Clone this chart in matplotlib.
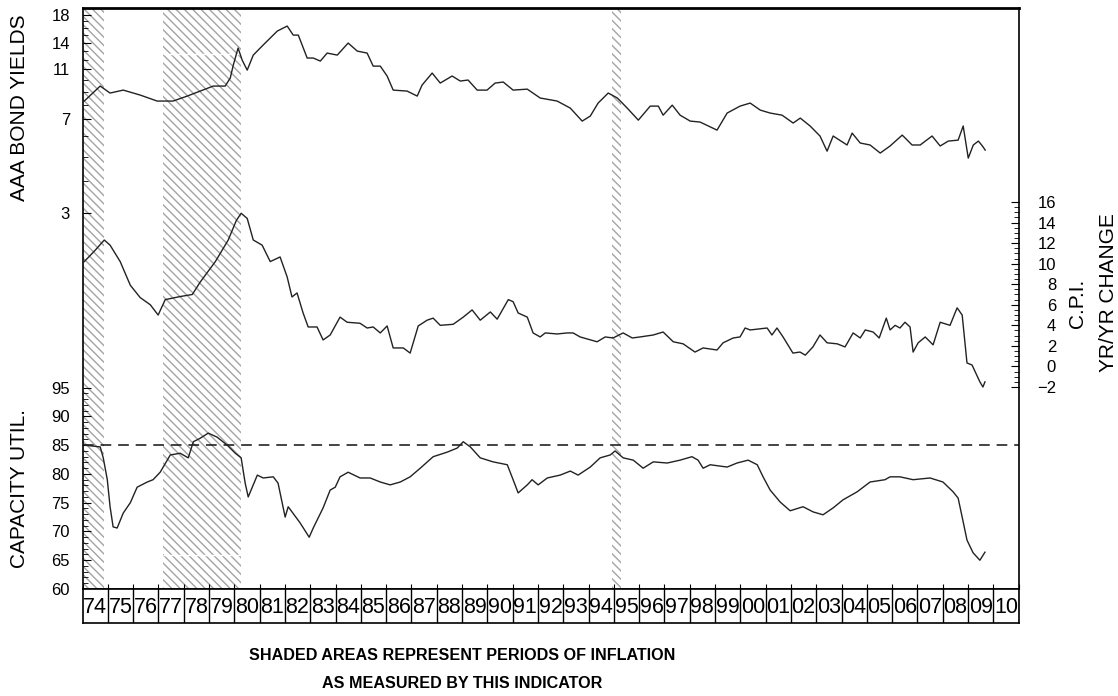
import matplotlib
matplotlib.use("Agg")
import matplotlib.pyplot as plt
import numpy as np
from matplotlib.ticker import FixedLocator, NullFormatter, FixedFormatter

# ---- data ----
bond_years = [1974.07, 1974.70, 1975.09, 1975.61, 1976.28, 1976.95, 1977.58, 1978.14, 1978.65, 1979.17,
              1979.64, 1979.84, 1979.96, 1980.15, 1980.31, 1980.51, 1980.75, 1981.14, 1981.70, 1982.09,
              1982.33, 1982.53, 1982.88, 1983.12, 1983.40, 1983.67, 1984.07, 1984.50, 1984.86, 1985.25,
              1985.49, 1985.77, 1986.04, 1986.28, 1986.83, 1987.23, 1987.42, 1987.82, 1988.14, 1988.61,
              1988.93, 1989.24, 1989.60, 1989.99, 1990.31, 1990.63, 1991.02, 1991.58, 1992.09, 1992.76,
              1993.28, 1993.75, 1994.07, 1994.38, 1994.78, 1995.14, 1995.53, 1995.97, 1996.44, 1996.76,
              1996.95, 1997.31, 1997.62, 1998.02, 1998.41, 1999.08, 1999.48, 1999.99, 2000.39, 2000.79,
              2001.18, 2001.65, 2002.09, 2002.37, 2002.76, 2003.15, 2003.43, 2003.67, 2004.22, 2004.42,
              2004.74, 2005.13, 2005.53, 2005.92, 2006.40, 2006.79, 2007.11, 2007.58, 2007.90, 2008.22,
              2008.61, 2008.81, 2009.01, 2009.21, 2009.41, 2009.57, 2009.68]
bond_vals = [8.26, 9.46, 8.88, 9.12, 8.72, 8.26, 8.26, 8.64, 9.04, 9.46,
             9.46, 10.17, 11.44, 13.34, 11.97, 10.93, 12.52, 13.71, 15.56, 16.28,
             15.0, 15.0, 12.19, 12.19, 11.86, 12.75, 12.52, 13.96, 12.98, 12.75,
             11.33, 11.33, 10.36, 9.12, 9.04, 8.64, 9.54, 10.64, 9.72, 10.36,
             9.90, 9.99, 9.12, 9.12, 9.72, 9.81, 9.12, 9.20, 8.49, 8.26,
             7.75, 6.89, 7.21, 8.11, 8.88, 8.49, 7.75, 6.95, 7.89, 7.89,
             7.27, 7.96, 7.27, 6.89, 6.83, 6.35, 7.41, 7.89, 8.11, 7.61,
             7.41, 7.27, 6.77, 7.08, 6.59, 6.02, 5.25, 6.02, 5.55, 6.18,
             5.65, 5.55, 5.16, 5.50, 6.07, 5.55, 5.55, 6.02, 5.50, 5.75,
             5.80, 6.59, 4.93, 5.55, 5.75, 5.50, 5.30]

cpi_years = [1974.07, 1974.50, 1974.86, 1975.09, 1975.49, 1975.89, 1976.28, 1976.68, 1976.99, 1977.27,
             1977.86, 1978.34, 1978.65, 1979.25, 1979.76, 1980.08, 1980.27, 1980.51, 1980.75, 1981.10,
             1981.42, 1981.81, 1982.09, 1982.28, 1982.48, 1982.72, 1982.92, 1983.27, 1983.51, 1983.79,
             1984.18, 1984.46, 1984.97, 1985.25, 1985.49, 1985.77, 1986.04, 1986.28, 1986.68, 1986.95,
             1987.27, 1987.62, 1987.86, 1988.14, 1988.65, 1989.05, 1989.40, 1989.72, 1990.12, 1990.39,
             1990.83, 1991.02, 1991.22, 1991.58, 1991.81, 1992.09, 1992.29, 1992.76, 1993.16, 1993.39,
             1993.67, 1994.34, 1994.66, 1994.97, 1995.37, 1995.73, 1996.04, 1996.56, 1996.95, 1997.35,
             1997.74, 1998.21, 1998.53, 1999.08, 1999.32, 1999.72, 1999.99, 2000.19, 2000.39, 2001.06,
             2001.25, 2001.45, 2001.69, 2002.08, 2002.36, 2002.57, 2002.87, 2003.15, 2003.43, 2003.83,
             2004.14, 2004.46, 2004.74, 2004.94, 2005.25, 2005.49, 2005.77, 2005.92, 2006.12, 2006.31,
             2006.51, 2006.71, 2006.83, 2007.03, 2007.31, 2007.62, 2007.90, 2008.29, 2008.57, 2008.77,
             2008.96, 2009.16, 2009.47, 2009.59, 2009.67]
cpi_vals = [10.2, 11.3, 12.3, 11.8, 10.2, 7.9, 6.7, 6.0, 5.0, 6.5,
            6.8, 7.0, 8.2, 10.2, 12.3, 14.2, 14.9, 14.4, 12.3, 11.8,
            10.2, 10.65, 8.7, 6.76, 7.15, 5.2, 3.84, 3.84, 2.58, 3.06,
            4.8, 4.3, 4.2, 3.74, 3.84, 3.26, 3.94, 1.8, 1.8, 1.3,
            3.94, 4.5, 4.7, 4.0, 4.1, 4.8, 5.5, 4.5, 5.3, 4.6,
            6.5, 6.3, 5.2, 4.8, 3.26, 2.87, 3.26, 3.16, 3.26, 3.26,
            2.87, 2.4, 2.87, 2.77, 3.26, 2.77, 2.87, 3.06, 3.35, 2.4,
            2.2, 1.4, 1.8, 1.6, 2.3, 2.77, 2.87, 3.74, 3.55, 3.74,
            3.06, 3.74, 2.87, 1.3, 1.4, 1.1, 1.9, 3.06, 2.3, 2.2,
            1.9, 3.26, 2.77, 3.55, 3.35, 2.77, 4.7, 3.55, 4.0, 3.74,
            4.3, 3.84, 1.4, 2.3, 2.87, 2.1, 4.3, 4.0, 5.7, 5.0,
            0.34, 0.14, -1.5, -2.0, -1.5]

cap_years = [1974.11, 1974.70, 1974.82, 1974.98, 1975.09, 1975.21, 1975.37, 1975.61, 1975.89, 1976.16,
             1976.56, 1976.79, 1977.07, 1977.47, 1977.86, 1978.18, 1978.38, 1978.65, 1978.97, 1979.32,
             1979.72, 1980.04, 1980.27, 1980.43, 1980.55, 1980.91, 1981.14, 1981.54, 1981.73, 1982.01,
             1982.13, 1982.60, 1982.96, 1983.12, 1983.51, 1983.79, 1983.99, 1984.18, 1984.50, 1984.97,
             1985.37, 1985.77, 1986.16, 1986.56, 1986.95, 1987.35, 1987.86, 1988.42, 1988.81, 1989.05,
             1989.33, 1989.72, 1990.23, 1990.79, 1991.02, 1991.22, 1991.58, 1991.77, 1992.01, 1992.37,
             1992.88, 1993.28, 1993.59, 1994.07, 1994.46, 1994.86, 1995.05, 1995.37, 1995.77, 1996.16,
             1996.56, 1997.11, 1997.62, 1998.09, 1998.33, 1998.53, 1998.81, 1999.48, 1999.87, 2000.31,
             2000.67, 2000.90, 2001.18, 2001.58, 2001.97, 2002.48, 2002.88, 2003.27, 2003.67, 2004.06,
             2004.62, 2005.13, 2005.72, 2005.92, 2006.31, 2006.83, 2007.50, 2008.01, 2008.41, 2008.61,
             2008.77, 2008.96, 2009.20, 2009.47, 2009.67]
cap_vals = [85.0, 84.7, 82.8, 79.0, 74.3, 70.8, 70.6, 73.2, 75.0, 77.7,
            78.6, 79.0, 80.3, 83.3, 83.6, 82.8, 85.6, 86.2, 87.1, 86.4,
            85.0, 83.6, 82.8, 78.4, 76.0, 79.8, 79.3, 79.5, 78.4, 72.5,
            74.3, 71.5, 69.0, 70.6, 74.1, 77.2, 77.7, 79.5, 80.3, 79.3,
            79.3, 78.6, 78.1, 78.6, 79.5, 81.0, 83.0, 83.8, 84.5, 85.6,
            84.7, 82.8, 82.1, 81.6, 79.0, 76.7, 78.1, 79.0, 78.1, 79.3,
            79.8, 80.5, 79.8, 81.2, 82.8, 83.3, 84.0, 82.8, 82.4, 81.0,
            82.1, 81.9, 82.4, 83.0, 82.4, 81.0, 81.6, 81.2, 81.9, 82.4,
            81.6, 79.5, 77.2, 75.1, 73.6, 74.3, 73.4, 72.9, 74.1, 75.5,
            76.9, 78.6, 79.0, 79.5, 79.5, 79.0, 79.3, 78.6, 76.9, 75.8,
            72.5, 68.5, 66.3, 65.0, 66.4]

# inflation periods (start, end)
shade_start = [1974.0, 1977.19, 1994.93]
shade_end = [1974.86, 1980.27, 1995.29]

year_labels = ["74", "75", "76", "77", "78", "79", "80", "81", "82", "83", "84", "85", "86",
               "87", "88", "89", "90", "91", "92", "93", "94", "95", "96", "97", "98", "99",
               "00", "01", "02", "03", "04", "05", "06", "07", "08", "09", "10"]

bond_ticks = [3, 7, 11, 14, 18]
cap_ticks = [60, 65, 70, 75, 80, 85, 90, 95]
cpi_ticks = [-2, 0, 2, 4, 6, 8, 10, 12, 14, 16]

plt.rcParams["font.family"] = ["Liberation Sans", "DejaVu Sans"]
plt.rcParams["hatch.linewidth"] = 1.0

W, H = 1118, 696
fig = plt.figure(figsize=(W / 100, H / 100), dpi=100)

# pixel geometry of plot box
px_l, px_r, px_t, px_b = 82.5, 1018.6, 8, 589
rect = [px_l / W, 1 - px_b / H, (px_r - px_l) / W, (px_b - px_t) / H]
x0, x1 = 1974, 2011

ax = fig.add_axes(rect)          # capacity utilisation, left lower
ax.set_xlim(x0, x1)
ax.set_ylim(60, 161)

for s, e in zip(shade_start, shade_end):
    ax.axvspan(s, e, facecolor="white", edgecolor="#a4a4a4", hatch="\\\\\\\\", lw=0, zorder=0)
# thin white seams that run through the big shaded block
ax.hlines([153.0, 65.9], shade_start[1], shade_end[1], color="white", lw=1.0, zorder=1)

ax.axhline(85, color="#111111", lw=1.1, ls=(0, (7, 4.5)), zorder=2)
ax.plot(cap_years, cap_vals, color="#222222", lw=1.0, zorder=3)

ax.yaxis.set_major_locator(FixedLocator(cap_ticks))
ax.yaxis.set_minor_locator(FixedLocator(np.arange(60, 96, 1)))
ax.yaxis.set_minor_formatter(NullFormatter())
ax.tick_params(axis="y", which="major", direction="in", length=6, width=0.8, labelsize=12, pad=9)
ax.tick_params(axis="y", which="minor", direction="in", length=3.5, width=0.6)
ax.xaxis.set_major_locator(FixedLocator(np.arange(x0, x1 + 1)))
ax.tick_params(axis="x", which="major", direction="in", length=3.5, width=0.8, labelbottom=False)
for sp in ax.spines.values():
    sp.set_linewidth(1.2)
ax.spines["top"].set_linewidth(2.0)

# AAA bond yields, log scale, left upper
axb = ax.twinx()
axb.set_yscale("log")
axb.set_ylim(0.0999, 19.17)
axb.plot(bond_years, bond_vals, color="#222222", lw=1.0)
axb.yaxis.tick_left()
axb.yaxis.set_major_locator(FixedLocator(bond_ticks))
axb.yaxis.set_major_formatter(FixedFormatter([str(t) for t in bond_ticks]))
axb.yaxis.set_minor_locator(FixedLocator([t for t in range(3, 19) if t not in bond_ticks]))
axb.yaxis.set_minor_formatter(NullFormatter())
axb.tick_params(axis="y", which="major", direction="in", length=6, width=0.8, labelsize=12, pad=9)
axb.tick_params(axis="y", which="minor", direction="in", length=3.5, width=0.6)
axb.set_xlim(x0, x1)
for sp in axb.spines.values():
    sp.set_visible(False)

# CPI yr/yr change, right middle
axc = ax.twinx()
axc.set_ylim(-21.65, 34.87)
axc.plot(cpi_years, cpi_vals, color="#222222", lw=1.0)
axc.yaxis.set_major_locator(FixedLocator(cpi_ticks))
axc.yaxis.set_minor_locator(FixedLocator(np.arange(-2, 16.01, 0.5)))
axc.yaxis.set_minor_formatter(NullFormatter())
axc.tick_params(axis="y", which="major", direction="in", length=6, width=0.8, labelsize=12, pad=27)
axc.tick_params(axis="y", which="minor", direction="in", length=3.5, width=0.6)
for lbl in axc.get_yticklabels():
    lbl.set_horizontalalignment("right")
axc.set_xlim(x0, x1)
for sp in axc.spines.values():
    sp.set_visible(False)

# year label strip below the plot
yr_b = 623
axy = fig.add_axes([px_l / W, 1 - yr_b / H, (px_r - px_l) / W, (yr_b - px_b) / H])
axy.set_xlim(x0, x1)
axy.set_ylim(0, 1)
axy.set_xticks([])
axy.set_yticks([])
for sp in axy.spines.values():
    sp.set_linewidth(1.2)
for i, lab in enumerate(year_labels):
    axy.axvline(x0 + i + 1, color="black", lw=1.0)
    axy.text(x0 + i + 0.5, 0.47, lab, ha="center", va="center", fontsize=15.5)

# axis titles
fig.text(20 / W, 1 - 108 / H, "AAA BOND YIELDS", rotation=90, ha="center", va="center", fontsize=15)
fig.text(20 / W, 1 - 489 / H, "CAPACITY UTIL.", rotation=90, ha="center", va="center", fontsize=15)
fig.text(1077 / W, 1 - 303 / H, "C.P.I.", rotation=90, ha="center", va="center", fontsize=15)
fig.text(1108 / W, 1 - 293 / H, "YR/YR CHANGE", rotation=90, ha="center", va="center", fontsize=15)

# footnote
fkw = dict(fontsize=11.6, fontweight="bold")
fig.text(462 / W, 1 - 655 / H, "SHADED AREAS REPRESENT PERIODS OF INFLATION", ha="center", va="center", **fkw)
fig.text(462 / W, 1 - 683 / H, "AS MEASURED BY THIS INDICATOR", ha="center", va="center", **fkw)

fig.savefig("out.png", dpi=100)
